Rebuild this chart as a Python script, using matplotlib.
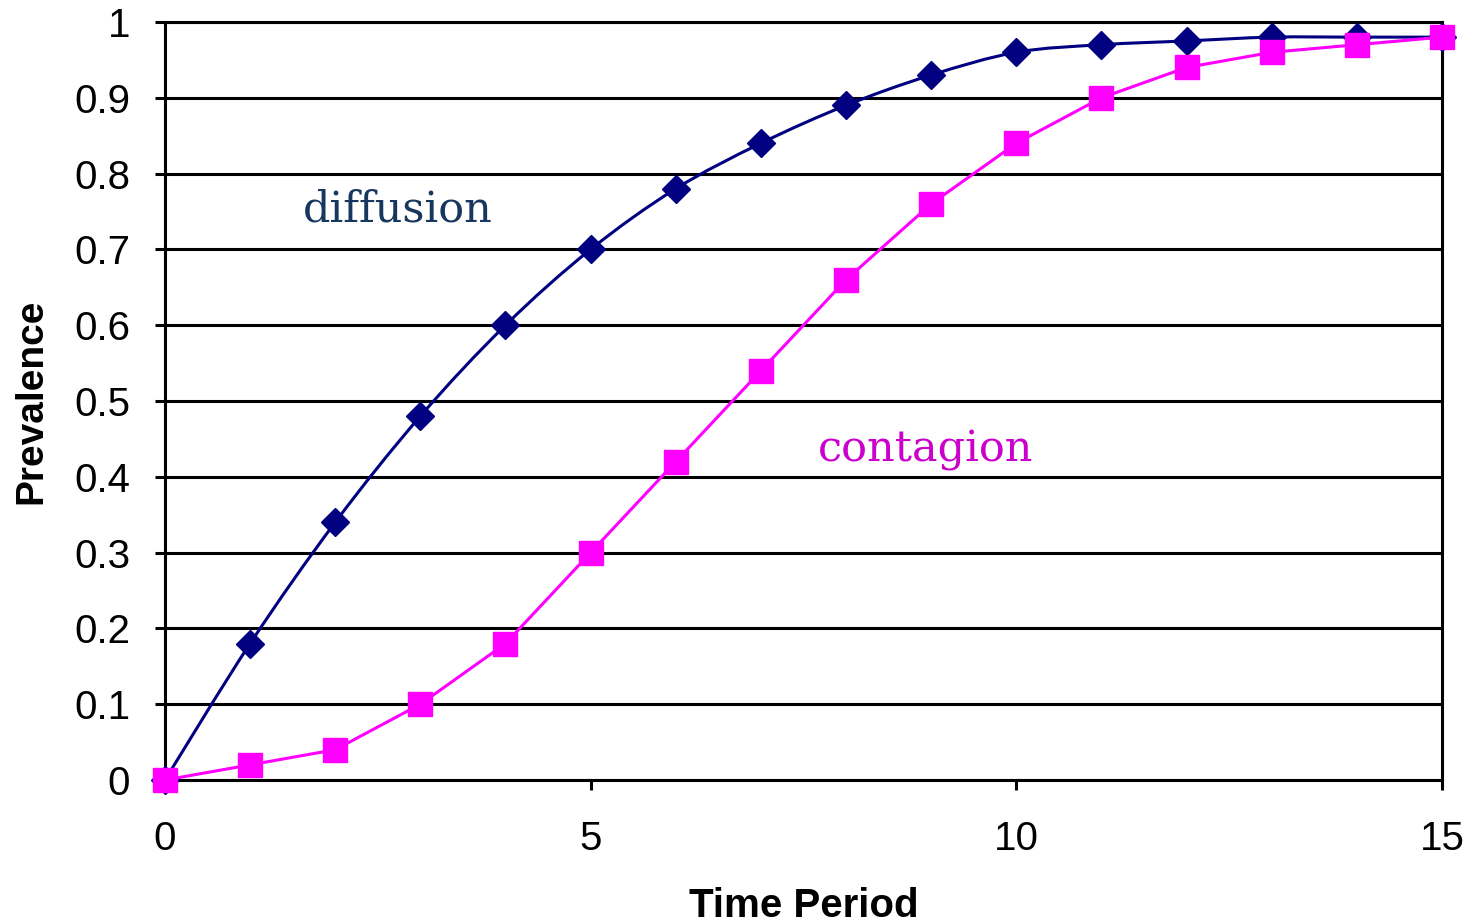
import numpy as np
import matplotlib
matplotlib.use("Agg")
import matplotlib.pyplot as plt
from matplotlib.path import Path
from matplotlib.patches import PathPatch

# Prevalence over time for two spread mechanisms
periods = list(range(16))
diffusion = [0, 0.18, 0.34, 0.48, 0.60, 0.70, 0.78, 0.84, 0.89, 0.93,
             0.96, 0.97, 0.975, 0.98, 0.98, 0.98]
contagion = [0, 0.02, 0.04, 0.10, 0.18, 0.30, 0.42, 0.54, 0.66, 0.76,
             0.84, 0.90, 0.94, 0.96, 0.97, 0.98]

x_ticks = [0, 5, 10, 15]
y_ticks = [0, 0.1, 0.2, 0.3, 0.4, 0.5, 0.6, 0.7, 0.8, 0.9, 1]
y_tick_labels = ["0", "0.1", "0.2", "0.3", "0.4", "0.5", "0.6", "0.7", "0.8", "0.9", "1"]

NAVY = "#000080"
MAGENTA = "#FF00FF"

plt.rcParams["font.family"] = ["Liberation Sans", "DejaVu Sans"]

fig = plt.figure(figsize=(14.74, 9.23), dpi=100)
ax = fig.add_axes([0.1119, 0.1549, 0.9783 - 0.1119, 0.9762 - 0.1549])

ax.set_xlim(0, 15)
ax.set_ylim(0, 1)

# horizontal gridlines
for yv in y_ticks:
    ax.axhline(yv, color="black", lw=2.2, zorder=1)


def smooth_path(xs, ys):
    """Cubic Bezier path through the points (Catmull-Rom style tangents)."""
    pts = np.column_stack([xs, ys]).astype(float)
    n = len(pts)
    verts = [pts[0]]
    codes = [Path.MOVETO]
    for i in range(n - 1):
        p0 = pts[i - 1] if i > 0 else pts[i]
        p1 = pts[i]
        p2 = pts[i + 1]
        p3 = pts[i + 2] if i + 2 < n else pts[i + 1]
        c1 = p1 + (p2 - p0) / 6.0
        c2 = p2 - (p3 - p1) / 6.0
        verts += [c1, c2, p2]
        codes += [Path.CURVE4] * 3
    return Path(verts, codes)


# diffusion: smoothed line with diamond markers
ax.add_patch(PathPatch(smooth_path(periods, diffusion), facecolor="none",
                       edgecolor=NAVY, lw=2.2, zorder=3, clip_on=False))
ax.plot(periods, diffusion, linestyle="none", marker="D", markersize=14,
        color=NAVY, zorder=4, clip_on=False)

# contagion: straight segments with square markers
ax.plot(periods, contagion, color=MAGENTA, lw=2.2, marker="s", markersize=17,
        zorder=5, clip_on=False)

ax.text(2.74, 0.753, "diffusion", color="#17375E", fontsize=31,
        family=["DejaVu Serif"], ha="center", va="center")
ax.text(8.93, 0.436, "contagion", color="#CC00CC", fontsize=31,
        family=["DejaVu Serif"], ha="center", va="center")

ax.set_xticks(x_ticks)
ax.set_xticklabels([str(v) for v in x_ticks])
ax.set_yticks(y_ticks)
ax.set_yticklabels(y_tick_labels)
ax.tick_params(axis="both", direction="out", length=7, width=2.2,
               labelsize=29, colors="black")
ax.tick_params(axis="x", pad=22)
ax.tick_params(axis="y", pad=18)

for side in ["left", "right", "top", "bottom"]:
    ax.spines[side].set_linewidth(2.2)
    ax.spines[side].set_color("black")

ax.set_xlabel("Time Period", fontsize=29, fontweight="bold", labelpad=21)
ax.set_ylabel("Prevalence", fontsize=28, fontweight="bold", labelpad=18)

fig.savefig("out.png", dpi=100, facecolor="white")
